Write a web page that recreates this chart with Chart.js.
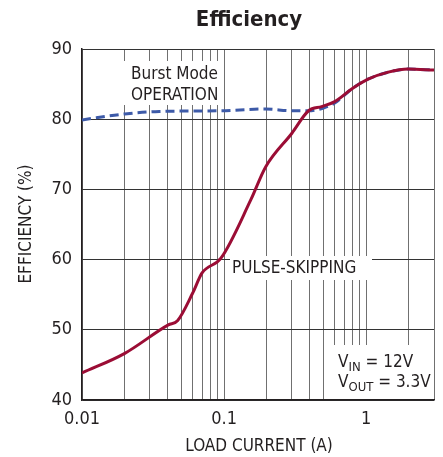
<!DOCTYPE html>
<html>
<head>
<meta charset="utf-8">
<script src="https://cdn.jsdelivr.net/npm/chart.js@4/dist/chart.umd.min.js"></script>
<style>
  html, body { margin: 0; padding: 0; background: #fff; }
  #wrap { width: 443px; height: 457px; }
</style>
</head>
<body>
<div id="wrap"><canvas id="chart"></canvas></div>
<script>
/* global Chart */

const FONT = "'Liberation Sans Narrow', 'DejaVu Sans Condensed', 'Liberation Sans', sans-serif";

// load current (A) vs efficiency (%)
const pulseCurrent = [0.01, 0.02, 0.0405, 0.047, 0.06, 0.07, 0.095, 0.154, 0.196, 0.3, 0.393, 0.486, 0.6, 0.79, 1.03, 1.43, 1.97, 3];
const pulseEff = [43.85, 46.65, 50.7, 51.3, 55.2, 58.1, 60.2, 68.5, 73.2, 78.0, 81.2, 81.8, 82.5, 84.3, 85.7, 86.7, 87.15, 87.0];

const burstCurrent = [0.01, 0.02, 0.035, 0.092, 0.196, 0.3, 0.393, 0.5, 0.6, 0.79, 1.03, 1.43, 1.97, 3];
const burstEff = [79.9, 80.75, 81.1, 81.2, 81.45, 81.2, 81.2, 81.6, 82.3, 84.3, 85.7, 86.7, 87.15, 87.0];

const xGrid = [0.01, 0.02, 0.03, 0.04, 0.05, 0.06, 0.07, 0.08, 0.09,
  0.1, 0.2, 0.3, 0.4, 0.5, 0.6, 0.7, 0.8, 0.9, 1, 2, 3];
const xLabels = [0.01, 0.1, 1];
const yTicks = [40, 50, 60, 70, 80, 90];

const toPoints = (xs, ys) => xs.map((x, i) => ({ x, y: ys[i] }));

// white-backed notes plus title and axis titles
const annotations = {
  id: "annotations",
  beforeDatasetsDraw(chart) {
    const { ctx } = chart;
    ctx.save();
    ctx.fillStyle = "#fff";
    ctx.fillRect(123, 61, 98, 44);
    ctx.fillRect(230, 256, 142, 24);
    ctx.fillRect(333, 345, 101, 54);
    ctx.restore();
  },
  afterDraw(chart) {
    const { ctx } = chart;
    ctx.save();
    ctx.fillStyle = "#231f20";
    ctx.textBaseline = "alphabetic";

    ctx.font = `bold 22px ${FONT}`;
    ctx.textAlign = "center";
    ctx.fillText("Efficiency", 249, 26);

    ctx.font = `17px ${FONT}`;
    ctx.fillText("LOAD CURRENT (A)", 259, 451);

    ctx.save();
    ctx.translate(31, 224);
    ctx.rotate(-Math.PI / 2);
    ctx.fillText("EFFICIENCY (%)", 0, 0);
    ctx.restore();

    ctx.textAlign = "left";
    ctx.fillText("Burst Mode", 131, 79);
    ctx.fillText("OPERATION", 131, 100);
    ctx.fillText("PULSE-SKIPPING", 232, 273);

    const sub = (y, main, low, rest) => {
      let x = 338;
      ctx.font = `17px ${FONT}`;
      ctx.fillText(main, x, y);
      x += ctx.measureText(main).width;
      ctx.font = `13px ${FONT}`;
      ctx.fillText(low, x, y + 4);
      x += ctx.measureText(low).width;
      ctx.font = `17px ${FONT}`;
      ctx.fillText(rest, x, y);
    };
    sub(367, "V", "IN", " = 12V");
    sub(387, "V", "OUT", " = 3.3V");
    ctx.restore();
  }
};

new Chart(document.getElementById("chart"), {
  type: "line",
  data: {
    datasets: [
      {
        label: "Pulse-skipping",
        data: toPoints(pulseCurrent, pulseEff),
        borderColor: "#9b0d35",
        borderWidth: 3,
        pointRadius: 0,
        cubicInterpolationMode: "monotone",
        order: 0
      },
      {
        label: "Burst Mode operation",
        data: toPoints(burstCurrent, burstEff),
        borderColor: "#3d5aa8",
        borderWidth: 3,
        borderDash: [9, 5],
        pointRadius: 0,
        cubicInterpolationMode: "monotone",
        order: 1
      }
    ]
  },
  options: {
    responsive: true,
    maintainAspectRatio: false,
    animation: false,
    events: [],
    layout: { padding: { top: 49, right: 8, left: 0, bottom: 0 } },
    plugins: { legend: { display: false }, tooltip: { enabled: false }, title: { display: false } },
    scales: {
      x: {
        type: "logarithmic",
        min: 0.01,
        max: 3,
        afterBuildTicks: (scale) => { scale.ticks = xGrid.map((v) => ({ value: v })); },
        afterFit: (scale) => { scale.height = 57; },
        grid: { color: "#707070", lineWidth: 1, drawTicks: false },
        border: { color: "#231f20", width: 1.5 },
        ticks: {
          autoSkip: false,
          maxRotation: 0,
          padding: 9,
          color: "#231f20",
          font: { family: FONT, size: 18 },
          callback: (v) => (xLabels.includes(v) ? String(v) : "")
        }
      },
      y: {
        min: 40,
        max: 90,
        afterBuildTicks: (scale) => { scale.ticks = yTicks.map((v) => ({ value: v })); },
        afterFit: (scale) => { scale.width = 82; },
        grid: { color: "#333", lineWidth: 1, drawTicks: false },
        border: { color: "#231f20", width: 1.5 },
        ticks: {
          padding: 10,
          color: "#231f20",
          font: { family: FONT, size: 18 }
        }
      }
    }
  },
  plugins: [annotations]
});
</script>
</body>
</html>
